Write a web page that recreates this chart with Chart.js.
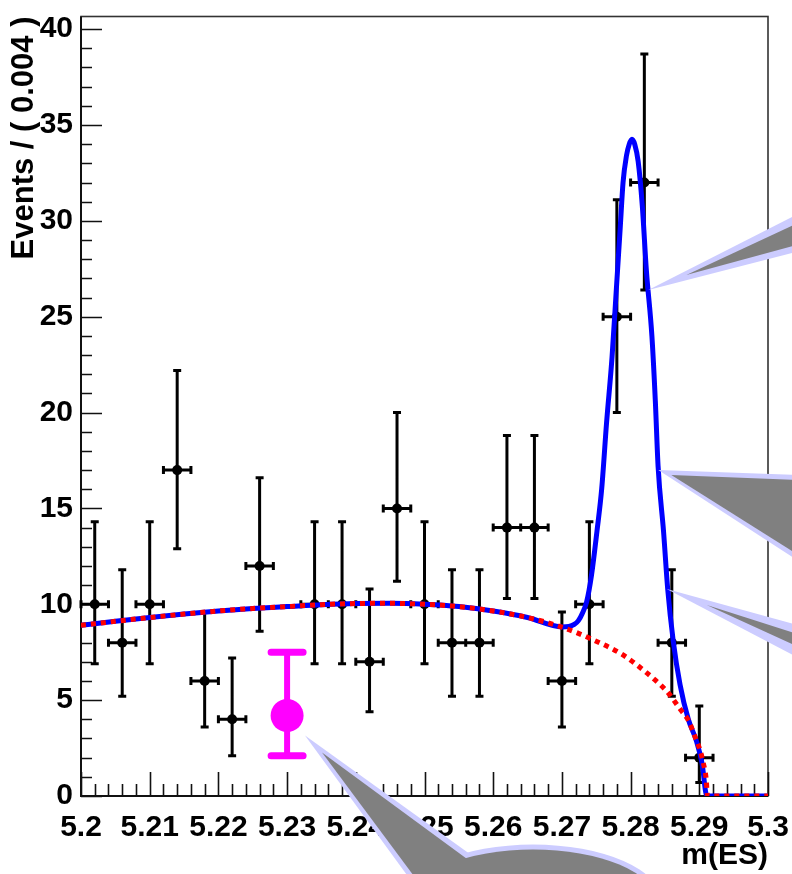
<!DOCTYPE html>
<html>
<head>
<meta charset="utf-8">
<script src="https://cdn.jsdelivr.net/npm/chart.js@4/dist/chart.umd.min.js"></script>
<style>
  html, body { margin: 0; padding: 0; background: #fff; }
  canvas { display: block; }
</style>
</head>
<body>
<canvas id="mesChart" width="792" height="874"></canvas>
<script>
// m(ES) bins (width 0.004), event counts and asymmetric error bar ends
const binCenters = [5.202, 5.206, 5.210, 5.214, 5.218, 5.222, 5.226, 5.234, 5.238, 5.242, 5.246,
                    5.250, 5.254, 5.258, 5.262, 5.266, 5.270, 5.274, 5.278, 5.282, 5.286, 5.290];
const counts     = [10, 8, 10, 17, 6, 4, 12, 10, 10, 7, 15, 10, 8, 8, 14, 14, 6, 10, 25, 32, 8, 2];
const errLow     = [6.9, 5.2, 6.9, 12.9, 3.6, 2.1, 8.6, 6.9, 6.9, 4.4, 11.2, 6.9, 5.2, 5.2, 10.3, 10.3,
                    3.6, 6.9, 20.0, 26.4, 5.2, 0.7];
const errHigh    = [14.3, 11.8, 14.3, 22.2, 9.6, 7.2, 16.6, 14.3, 14.3, 10.8, 20.0, 14.3, 11.8, 11.8,
                    18.8, 18.8, 9.6, 14.3, 31.1, 38.7, 11.8, 4.7];
const binHalfWidth = 0.002;

// highlighted (magenta) point
const markX = [5.23];
const markY = [4.2];
const markLow = [2.1];
const markHigh = [7.5];

// total fit (blue)
const fitX = [5.200, 5.205, 5.210, 5.215, 5.220, 5.225, 5.230, 5.235, 5.240, 5.245, 5.250, 5.255,
              5.260, 5.265, 5.2700, 5.2710, 5.2718, 5.2724, 5.2730, 5.2736, 5.2743, 5.2751, 5.2758,
              5.2765, 5.2773, 5.2779, 5.2785, 5.2789, 5.2794, 5.2798, 5.2802, 5.2806, 5.2811,
              5.2817, 5.2823, 5.2831, 5.2836, 5.2840, 5.2848, 5.2854, 5.2862, 5.2872, 5.2884,
              5.2896, 5.2904, 5.2911, 5.300];
const fitY = [8.90, 9.11, 9.31, 9.49, 9.65, 9.78, 9.88, 9.98, 10.04, 10.05, 10.00, 9.88,
              9.65, 9.31, 8.82, 8.84, 8.95, 9.15, 9.55, 10.13, 11.5, 13.8, 16.05,
              19.46, 22.9, 26.3, 29.7, 32.0, 33.4, 34.0, 34.26, 34.0, 33.1,
              30.8, 27.4, 24.0, 20.6, 17.2, 13.78, 10.8, 8.1, 5.8, 4.0,
              2.85, 1.7, 0, 0];

// background component (red dotted)
const bgX = [5.200, 5.205, 5.210, 5.215, 5.220, 5.225, 5.230, 5.235, 5.240, 5.245, 5.250, 5.255,
             5.260, 5.265, 5.270, 5.2739, 5.2787, 5.2805, 5.2836, 5.2853, 5.2874, 5.2884, 5.2894,
             5.2901, 5.2906, 5.2910, 5.2912, 5.300];
const bgY = [8.90, 9.11, 9.31, 9.49, 9.65, 9.78, 9.88, 9.98, 10.04, 10.05, 10.00, 9.88,
             9.65, 9.31, 8.81, 8.25, 7.4, 6.95, 6.04, 5.45, 4.44, 3.95, 3.07,
             2.4, 1.7, 0.9, 0, 0];

// axis ticks
const xTickValues = [5.2, 5.21, 5.22, 5.23, 5.24, 5.25, 5.26, 5.27, 5.28, 5.29, 5.3];
const xTickLabels = ['5.2', '5.21', '5.22', '5.23', '5.24', '5.25', '5.26', '5.27', '5.28', '5.29', '5.3'];
const yTickValues = [0, 5, 10, 15, 20, 25, 30, 35, 40];
const yTickLabels = ['0', '5', '10', '15', '20', '25', '30', '35', '40'];

// callout bubbles: tip in data coords, outline offsets in px from the tip
const callouts = [
  { tip: [5.28258, 26.4], outer: [[0, 0], [152, -77], [152, -39]],
    inner: [[38, -15], [152, -68], [152, -46]] },
  { tip: [5.28403, 17.0], outer: [[0, 0], [142, 5], [142, 92]],
    inner: [[13, 5], [142, 10], [142, 86]] },
  { tip: [5.28526, 10.8], outer: [[0, 0], [134, 37], [134, 70]],
    inner: [[40, 16], [134, 46], [134, 59]] },
  { tip: [5.23261, 3.15], outer: [[0, 0], [185, 133], [106, 145]],
    inner: [[17, 17], [175, 133], [116, 150]],
    body: { c: [228, 165], outer: [128, 56], inner: [122, 51] } }
];

const FONT = { family: '"Liberation Sans", Arial, Helvetica, sans-serif', size: 30, weight: 'bold' };
const TITLE_FONT = { family: '"Liberation Sans", Arial, Helvetica, sans-serif', size: 31, weight: 'bold' };

const pts = (xs, ys) => xs.map((v, i) => ({ x: v, y: ys[i] }));

// ROOT-like frame with inward tick marks
const framePlugin = {
  id: 'rootFrame',
  beforeDatasetsDraw(chart) {
    const { ctx, chartArea: a, scales: { x, y } } = chart;
    ctx.save();
    ctx.strokeStyle = '#333';
    ctx.lineWidth = 1.6;
    ctx.strokeRect(a.left, a.top, a.right - a.left, a.bottom - a.top);
    ctx.strokeStyle = '#111';
    ctx.lineWidth = 2;
    ctx.beginPath();
    ctx.moveTo(a.left, a.top);
    ctx.lineTo(a.left, a.bottom);
    ctx.lineTo(a.right, a.bottom);
    ctx.stroke();
    ctx.lineWidth = 1.6;
    ctx.beginPath();
    for (let k = 0; k <= 50; k++) {
      const v = 5.2 + k * 0.002;
      const px = Math.round(x.getPixelForValue(v)) + 0.5;
      const len = k % 5 === 0 ? 24 : 12;
      ctx.moveTo(px, a.bottom);
      ctx.lineTo(px, a.bottom - len);
    }
    for (let k = 0; k <= 40; k++) {
      const py = Math.round(y.getPixelForValue(k)) + 0.5;
      const len = k % 5 === 0 ? 21 : 11;
      ctx.moveTo(a.left, py);
      ctx.lineTo(a.left + len, py);
    }
    ctx.stroke();
    ctx.restore();
  }
};

const errorBarPlugin = {
  id: 'errorBars',
  beforeDatasetsDraw(chart) {
    const { ctx, scales: { x, y } } = chart;
    ctx.save();
    ctx.strokeStyle = '#000';
    ctx.lineWidth = 3;
    ctx.beginPath();
    binCenters.forEach((m, i) => {
      const px = x.getPixelForValue(m);
      const py = y.getPixelForValue(counts[i]);
      const yl = y.getPixelForValue(errLow[i]);
      const yh = y.getPixelForValue(errHigh[i]);
      const xl = x.getPixelForValue(m - binHalfWidth);
      const xh = x.getPixelForValue(m + binHalfWidth);
      ctx.moveTo(px, yl); ctx.lineTo(px, yh);
      ctx.moveTo(xl, py); ctx.lineTo(xh, py);
      ctx.moveTo(px - 4, yl); ctx.lineTo(px + 4, yl);
      ctx.moveTo(px - 4, yh); ctx.lineTo(px + 4, yh);
      ctx.moveTo(xl, py - 4); ctx.lineTo(xl, py + 4);
      ctx.moveTo(xh, py - 4); ctx.lineTo(xh, py + 4);
    });
    ctx.stroke();

    // magenta marker error bar
    ctx.strokeStyle = '#ff00ff';
    ctx.lineCap = 'round';
    markX.forEach((m, i) => {
      const px = x.getPixelForValue(m);
      const yl = y.getPixelForValue(markLow[i]);
      const yh = y.getPixelForValue(markHigh[i]);
      ctx.lineWidth = 6;
      ctx.beginPath();
      ctx.moveTo(px, yl); ctx.lineTo(px, yh);
      ctx.stroke();
      ctx.lineWidth = 7;
      ctx.beginPath();
      ctx.moveTo(px - 16, yl); ctx.lineTo(px + 16, yl);
      ctx.moveTo(px - 16, yh); ctx.lineTo(px + 16, yh);
      ctx.stroke();
    });
    ctx.restore();
  }
};

function polyPath(ctx, x0, y0, list) {
  ctx.beginPath();
  list.forEach(([dx, dy], i) => {
    if (i === 0) ctx.moveTo(x0 + dx, y0 + dy);
    else ctx.lineTo(x0 + dx, y0 + dy);
  });
  ctx.closePath();
}

const calloutPlugin = {
  id: 'callouts',
  afterDraw(chart) {
    const { ctx, scales: { x, y } } = chart;
    ctx.save();
    callouts.forEach(c => {
      const tx = x.getPixelForValue(c.tip[0]);
      const ty = y.getPixelForValue(c.tip[1]);
      ctx.fillStyle = '#ccccff';
      polyPath(ctx, tx, ty, c.outer);
      ctx.fill();
      if (c.body) {
        ctx.beginPath();
        ctx.ellipse(tx + c.body.c[0], ty + c.body.c[1], c.body.outer[0], c.body.outer[1], 0, 0, Math.PI * 2);
        ctx.fill();
      }
      ctx.fillStyle = '#808080';
      polyPath(ctx, tx, ty, c.inner);
      ctx.fill();
      if (c.body) {
        ctx.beginPath();
        ctx.ellipse(tx + c.body.c[0], ty + c.body.c[1], c.body.inner[0], c.body.inner[1], 0, 0, Math.PI * 2);
        ctx.fill();
      }
    });
    ctx.restore();
  }
};

const ctx = document.getElementById('mesChart');

new Chart(ctx, {
  type: 'scatter',
  data: {
    datasets: [
      {
        label: 'data',
        data: pts(binCenters, counts),
        pointRadius: 5,
        pointBackgroundColor: '#000',
        pointBorderWidth: 0,
        order: 3
      },
      {
        type: 'line',
        label: 'total fit',
        data: pts(fitX, fitY),
        borderColor: '#0000ff',
        borderWidth: 5,
        pointRadius: 0,
        fill: false,
        cubicInterpolationMode: 'monotone',
        order: 2
      },
      {
        type: 'line',
        label: 'background',
        data: pts(bgX, bgY),
        borderColor: '#ff0000',
        borderWidth: 5,
        borderDash: [5, 5],
        pointRadius: 0,
        fill: false,
        cubicInterpolationMode: 'monotone',
        order: 1
      },
      {
        label: 'marker',
        data: pts(markX, markY),
        pointRadius: 16.5,
        pointBackgroundColor: '#ff00ff',
        pointBorderWidth: 0,
        order: 0
      }
    ]
  },
  options: {
    responsive: false,
    animation: false,
    devicePixelRatio: 1,
    layout: { padding: { top: 8, right: 24, left: 0, bottom: 0 } },
    plugins: {
      legend: { display: false },
      tooltip: { enabled: false }
    },
    scales: {
      x: {
        type: 'linear',
        min: 5.2,
        max: 5.3,
        afterBuildTicks(scale) { scale.ticks = xTickValues.map(v => ({ value: v })); },
        afterFit(scale) {
          scale.height = 78;
          scale.paddingLeft = 0;
          scale.paddingRight = 0;
        },
        grid: { display: false, drawTicks: false },
        border: { display: false },
        ticks: {
          autoSkip: false,
          maxRotation: 0,
          minRotation: 0,
          padding: 14,
          color: '#000',
          font: FONT,
          callback: (value, index) => xTickLabels[index]
        },
        title: {
          display: true,
          text: 'm(ES)',
          align: 'end',
          color: '#000',
          font: FONT,
          padding: { top: 0, bottom: 0 }
        }
      },
      y: {
        type: 'linear',
        min: 0,
        max: 40.66,
        afterBuildTicks(scale) { scale.ticks = yTickValues.map(v => ({ value: v })); },
        afterFit(scale) {
          scale.width = 81;
          scale.paddingTop = 0;
          scale.paddingBottom = 0;
        },
        grid: { display: false, drawTicks: false },
        border: { display: false },
        ticks: {
          autoSkip: false,
          padding: 8,
          color: '#000',
          font: FONT,
          callback: (value, index) => yTickLabels[index]
        },
        title: {
          display: true,
          text: 'Events / ( 0.004 )',
          align: 'end',
          color: '#000',
          font: TITLE_FONT,
          padding: { top: 6, bottom: 0 }
        }
      }
    }
  },
  plugins: [framePlugin, errorBarPlugin, calloutPlugin]
});
</script>
</body>
</html>
